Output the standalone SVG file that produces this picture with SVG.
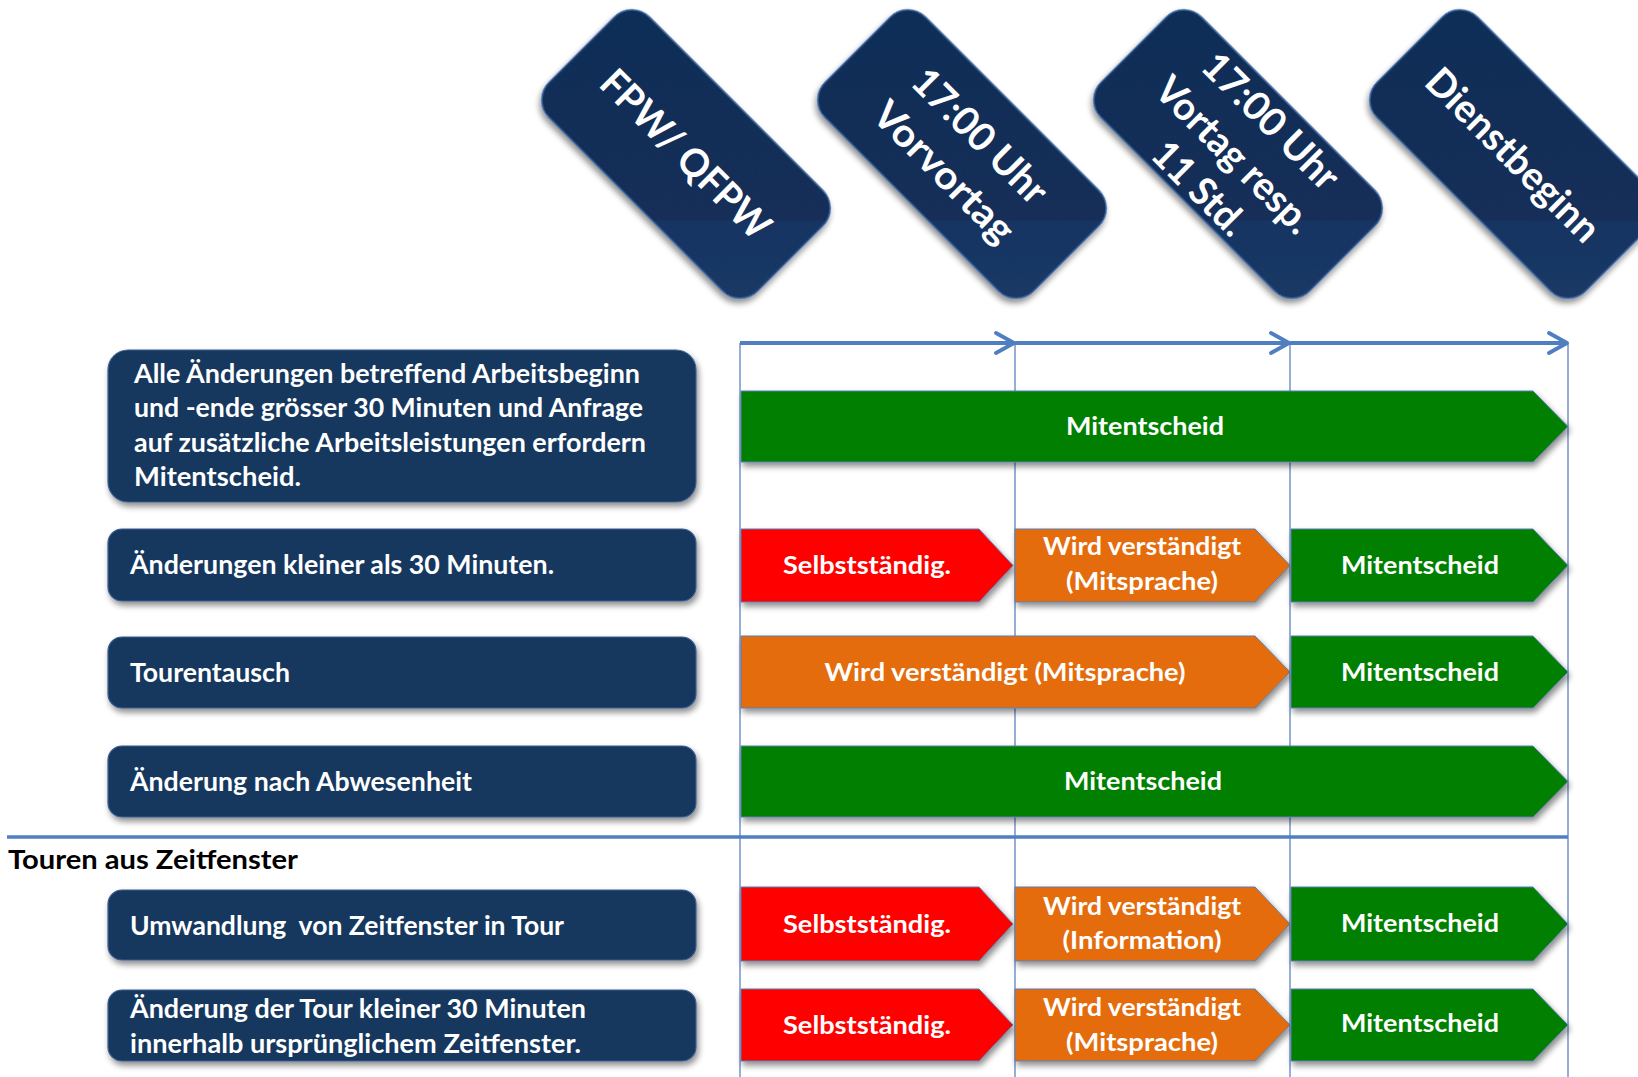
<svg xmlns="http://www.w3.org/2000/svg" width="1638" height="1077" viewBox="0 0 1638 1077">
<defs>
<filter id="sh" x="-10%" y="-20%" width="120%" height="150%">
<feGaussianBlur in="SourceAlpha" stdDeviation="3"/>
<feOffset dx="2" dy="4" result="b"/>
<feComponentTransfer><feFuncA type="linear" slope="0.45"/></feComponentTransfer>
<feMerge><feMergeNode/><feMergeNode in="SourceGraphic"/></feMerge>
</filter>
<linearGradient id="dg" gradientUnits="userSpaceOnUse" x1="0" y1="-150" x2="0" y2="150" gradientTransform="rotate(-45)">
<stop offset="0" stop-color="#112d57"/>
<stop offset="0.72" stop-color="#122e58"/>
<stop offset="0.725" stop-color="#183562"/>
<stop offset="1" stop-color="#1a3865"/>
</linearGradient>
<marker id="ah" markerUnits="userSpaceOnUse" viewBox="0 0 24 24" refX="21" refY="12" markerWidth="24" markerHeight="24" orient="auto">
<path d="M3,2 L21,12 L3,22" fill="none" stroke="#4f7fc0" stroke-width="3.8" stroke-linecap="round" stroke-linejoin="round"/>
</marker>
</defs>
<style>
.dia{fill:url(#dg);stroke:#3a64a0;stroke-width:1.5;filter:url(#sh)}
.dt{font-family:Lato,"Liberation Sans",sans-serif;font-weight:bold;font-size:39px;fill:#fff;text-anchor:middle}
.box{fill:#17375e;stroke:#3d5f92;stroke-width:1.2;filter:url(#sh)}
.bt{font-family:Lato,"Liberation Sans",sans-serif;font-weight:bold;font-size:26px;fill:#fff}
.g{fill:#007f00;stroke:#5b7fb5;stroke-width:1;filter:url(#sh)}
.r{fill:#ff0000;stroke:#5b7fb5;stroke-width:1;filter:url(#sh)}
.o{fill:#e46c0a;stroke:#5b7fb5;stroke-width:1;filter:url(#sh)}
.lt{font-family:Lato,"Liberation Sans",sans-serif;font-weight:bold;font-size:25px;fill:#fff;text-anchor:middle}
.vl{stroke:#7d9bcc;stroke-width:1.6;fill:none}
.ar{stroke:#4f7fc0;stroke-width:3.8;fill:none;marker-end:url(#ah)}
.sep{stroke:#4f7fc0;stroke-width:3.5}
.hd{font-family:Lato,"Liberation Sans",sans-serif;font-weight:bold;font-size:26px;fill:#000}
</style>

<g id="connectors">
<line class="vl" x1="740" y1="343" x2="740" y2="1077"/>
<line class="vl" x1="1015" y1="343" x2="1015" y2="1077"/>
<line class="vl" x1="1290" y1="343" x2="1290" y2="1077"/>
<line class="vl" x1="1568" y1="343" x2="1568" y2="1077"/>
<line class="ar" x1="740" y1="343" x2="1014" y2="343"/>
<line class="ar" x1="1015" y1="343" x2="1289" y2="343"/>
<line class="ar" x1="1290" y1="343" x2="1567" y2="343"/>
<line class="sep" x1="7" y1="837" x2="1568" y2="837"/>
</g>

<g id="hdr-fpw" transform="translate(686,154) rotate(45)">
<rect class="dia" x="-147.5" y="-71" width="295" height="142" rx="25"/>
<text class="dt" x="0" y="14" textLength="222" lengthAdjust="spacingAndGlyphs">FPW/ QFPW</text>
</g>
<g id="hdr-vorvortag" transform="translate(962,154) rotate(45)">
<rect class="dia" x="-147.5" y="-71" width="295" height="142" rx="25"/>
<text class="dt" x="0" y="-12" textLength="174" lengthAdjust="spacingAndGlyphs">17:00 Uhr</text>
<text class="dt" x="0" y="39" textLength="182" lengthAdjust="spacingAndGlyphs">Vorvortag</text>
</g>
<g id="hdr-vortag" transform="translate(1238,154) rotate(45)">
<rect class="dia" x="-147.5" y="-71" width="295" height="142" rx="25"/>
<text class="dt" x="0" y="-33" textLength="176" lengthAdjust="spacingAndGlyphs">17:00 Uhr</text>
<text class="dt" x="-2" y="17" textLength="204" lengthAdjust="spacingAndGlyphs">Vortag resp.</text>
<text class="dt" x="-3" y="65" textLength="116" lengthAdjust="spacingAndGlyphs">11 Std.</text>
</g>
<g id="hdr-dienstbeginn" transform="translate(1514,154) rotate(45)">
<rect class="dia" x="-147.5" y="-71" width="295" height="142" rx="25"/>
<text class="dt" x="0" y="15" textLength="228" lengthAdjust="spacingAndGlyphs">Dienstbeginn</text>
</g>

<g id="row1">
<rect class="box" x="108" y="350" width="588" height="152" rx="20"/>
<text class="bt" x="134" y="383" textLength="506" lengthAdjust="spacingAndGlyphs">Alle Änderungen betreffend Arbeitsbeginn</text>
<text class="bt" x="134" y="417" textLength="509" lengthAdjust="spacingAndGlyphs">und -ende grösser 30 Minuten und Anfrage</text>
<text class="bt" x="134" y="452" textLength="512" lengthAdjust="spacingAndGlyphs">auf zusätzliche Arbeitsleistungen erfordern</text>
<text class="bt" x="134" y="486" textLength="167" lengthAdjust="spacingAndGlyphs">Mitentscheid.</text>
<polygon class="g" points="741,391 1533,391 1568,426.5 1533,462 741,462"/>
<text class="lt" x="1145" y="435" textLength="158" lengthAdjust="spacingAndGlyphs">Mitentscheid</text>
</g>

<g id="row2">
<rect class="box" x="108" y="529" width="588" height="72" rx="14"/>
<text class="bt" x="130" y="574" textLength="424" lengthAdjust="spacingAndGlyphs">Änderungen kleiner als 30 Minuten.</text>
<polygon class="r" points="741,529 979,529 1013,565.5 979,602 741,602"/>
<text class="lt" x="867" y="574" textLength="168" lengthAdjust="spacingAndGlyphs">Selbstständig.</text>
<polygon class="o" points="1015,529 1255,529 1290,565.5 1255,602 1015,602"/>
<text class="lt" x="1142" y="555" textLength="198" lengthAdjust="spacingAndGlyphs">Wird verständigt</text>
<text class="lt" x="1142" y="590" textLength="152" lengthAdjust="spacingAndGlyphs">(Mitsprache)</text>
<polygon class="g" points="1291,529 1533,529 1568,565.5 1533,602 1291,602"/>
<text class="lt" x="1420" y="574" textLength="158" lengthAdjust="spacingAndGlyphs">Mitentscheid</text>
</g>

<g id="row3">
<rect class="box" x="108" y="637" width="588" height="71" rx="14"/>
<text class="bt" x="130" y="682" textLength="160" lengthAdjust="spacingAndGlyphs">Tourentausch</text>
<polygon class="o" points="741,636 1255,636 1290,672 1255,708 741,708"/>
<text class="lt" x="1005" y="681" textLength="361" lengthAdjust="spacingAndGlyphs">Wird verständigt (Mitsprache)</text>
<polygon class="g" points="1291,636 1533,636 1568,672 1533,708 1291,708"/>
<text class="lt" x="1420" y="681" textLength="158" lengthAdjust="spacingAndGlyphs">Mitentscheid</text>
</g>

<g id="row4">
<rect class="box" x="108" y="746" width="588" height="71" rx="14"/>
<text class="bt" x="130" y="791" textLength="342" lengthAdjust="spacingAndGlyphs">Änderung nach Abwesenheit</text>
<polygon class="g" points="741,746 1533,746 1568,781.5 1533,817 741,817"/>
<text class="lt" x="1143" y="790" textLength="158" lengthAdjust="spacingAndGlyphs">Mitentscheid</text>
</g>

<g id="section">
<text class="hd" x="8" y="869" textLength="290" lengthAdjust="spacingAndGlyphs">Touren aus Zeitfenster</text>
</g>

<g id="row5">
<rect class="box" x="108" y="890" width="588" height="70" rx="14"/>
<text class="bt" x="130" y="935" textLength="434" lengthAdjust="spacingAndGlyphs" xml:space="preserve">Umwandlung  von Zeitfenster in Tour</text>
<polygon class="r" points="741,887 979,887 1013,924 979,961 741,961"/>
<text class="lt" x="867" y="933" textLength="168" lengthAdjust="spacingAndGlyphs">Selbstständig.</text>
<polygon class="o" points="1015,887 1255,887 1290,924 1255,961 1015,961"/>
<text class="lt" x="1142" y="915" textLength="198" lengthAdjust="spacingAndGlyphs">Wird verständigt</text>
<text class="lt" x="1142" y="949" textLength="159" lengthAdjust="spacingAndGlyphs">(Information)</text>
<polygon class="g" points="1291,887 1533,887 1568,924 1533,961 1291,961"/>
<text class="lt" x="1420" y="932" textLength="158" lengthAdjust="spacingAndGlyphs">Mitentscheid</text>
</g>

<g id="row6">
<rect class="box" x="108" y="990" width="588" height="71" rx="14"/>
<text class="bt" x="130" y="1018" textLength="456" lengthAdjust="spacingAndGlyphs">Änderung der Tour kleiner 30 Minuten</text>
<text class="bt" x="130" y="1053" textLength="451" lengthAdjust="spacingAndGlyphs">innerhalb ursprünglichem Zeitfenster.</text>
<polygon class="r" points="741,989 979,989 1013,1025 979,1061 741,1061"/>
<text class="lt" x="867" y="1034" textLength="168" lengthAdjust="spacingAndGlyphs">Selbstständig.</text>
<polygon class="o" points="1015,989 1255,989 1290,1025 1255,1061 1015,1061"/>
<text class="lt" x="1142" y="1016" textLength="198" lengthAdjust="spacingAndGlyphs">Wird verständigt</text>
<text class="lt" x="1142" y="1051" textLength="152" lengthAdjust="spacingAndGlyphs">(Mitsprache)</text>
<polygon class="g" points="1291,989 1533,989 1568,1025 1533,1061 1291,1061"/>
<text class="lt" x="1420" y="1032" textLength="158" lengthAdjust="spacingAndGlyphs">Mitentscheid</text>
</g>
</svg>
